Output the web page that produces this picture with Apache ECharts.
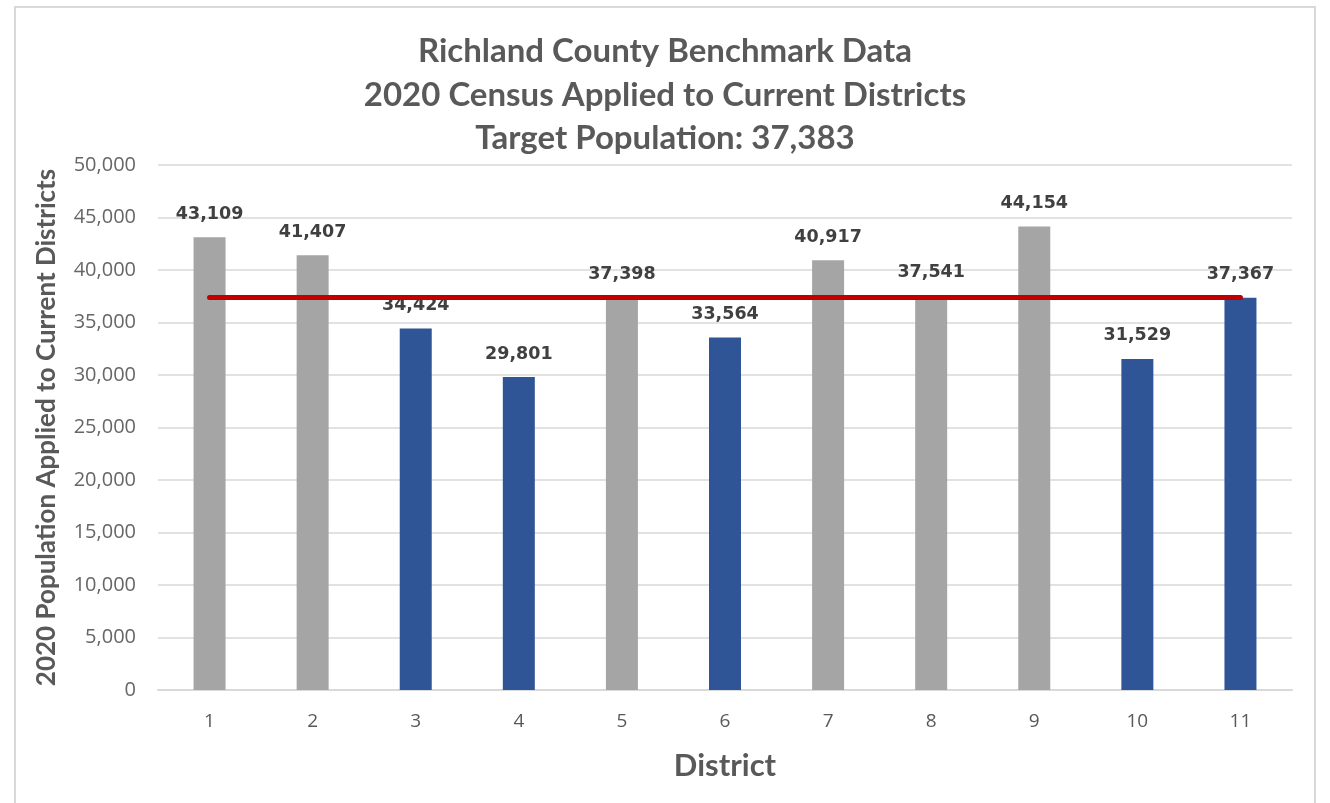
<!DOCTYPE html>
<html>
<head>
<meta charset="utf-8">
<script src="https://cdn.jsdelivr.net/npm/echarts@6/dist/echarts.min.js"></script>
<style>
  html, body { margin: 0; padding: 0; background: #fff; }
  #frame {
    position: absolute; left: 14px; top: 6px; width: 1302px; height: 820px;
    border: 2px solid #d9d9d9; box-sizing: border-box;
  }
  #chart { position: absolute; left: 0; top: 0; width: 1330px; height: 803px; }
</style>
</head>
<body>
<div id="frame"></div>
<div id="chart"></div>
<script>
  // district numbers and populations
  const districts = ['1', '2', '3', '4', '5', '6', '7', '8', '9', '10', '11']
  const population = [43109, 41407, 34424, 29801, 37398, 33564, 40917, 37541, 44154, 31529, 37367]
  const target = 37383
  const yTicks = [0, 5000, 10000, 15000, 20000, 25000, 30000, 35000, 40000, 45000, 50000]

  const fmt = v => v.toLocaleString('en-US')

  const myChart = echarts.init(document.getElementById('chart'))
  myChart.setOption({
    animation: false,
    title: {
      text: 'Richland County Benchmark Data\n2020 Census Applied to Current Districts\nTarget Population: ' + fmt(target),
      left: 'center',
      top: 25,
      textStyle: {
        fontFamily: 'Lato',
        fontWeight: 'bold',
        fontSize: 33,
        lineHeight: 43.5,
        color: '#595959'
      }
    },
    grid: { left: 158, right: 38, top: 165, bottom: 113 },
    xAxis: {
      type: 'category',
      data: districts,
      name: 'District',
      nameLocation: 'middle',
      nameGap: 60,
      nameTextStyle: { fontFamily: 'Lato', fontWeight: 'bold', fontSize: 31, color: '#595959' },
      axisLine: { lineStyle: { color: '#d9d9d9', width: 2 } },
      axisTick: { show: false },
      axisLabel: { margin: 22, fontFamily: 'Open Sans', fontSize: 19, color: '#595959' }
    },
    yAxis: {
      type: 'value',
      min: yTicks[0],
      max: yTicks[yTicks.length - 1],
      interval: 5000,
      name: '2020 Population Applied to Current Districts',
      nameLocation: 'middle',
      nameGap: 98,
      nameTextStyle: { fontFamily: 'Lato', fontWeight: 'bold', fontSize: 26, color: '#595959' },
      axisLine: { show: false },
      axisTick: { show: false },
      axisLabel: {
        margin: 22,
        fontFamily: 'Open Sans',
        fontSize: 20,
        color: '#666666',
        formatter: v => fmt(v)
      },
      splitLine: { lineStyle: { color: '#d9d9d9', width: 1.5 } }
    },
    series: [
      {
        type: 'bar',
        barWidth: 32,
        data: population.map(v => ({
          value: v,
          itemStyle: { color: v < target ? '#2f5597' : '#a5a5a5' }
        })),
        label: {
          show: true,
          position: 'top',
          distance: 14,
          fontFamily: 'DejaVu Sans',
          fontWeight: 'bold',
          fontSize: 17.5,
          color: '#404040',
          formatter: p => fmt(p.value)
        },
        markLine: {
          silent: true,
          symbol: 'none',
          label: { show: false },
          lineStyle: { color: '#c00000', width: 5, type: 'solid', cap: 'round' },
          data: [[
            { coord: [districts[0], target] },
            { coord: [districts[districts.length - 1], target] }
          ]]
        }
      }
    ]
  })
</script>
</body>
</html>
